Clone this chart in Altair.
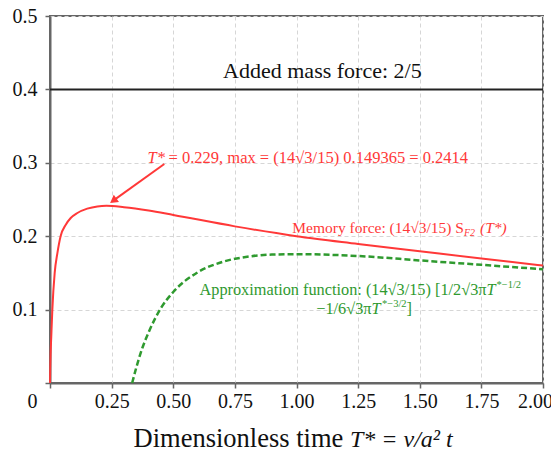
import altair as alt
import pandas as pd

SERIF = "Liberation Serif"
RED = "#ff3838"
GREEN = "#2f9a2f"
AXIS_GRAY = "#666666"

# ---- data ----
T_mem = [0, 0.001, 0.0025, 0.005, 0.0095, 0.019, 0.03, 0.043, 0.064, 0.084,
         0.111, 0.151, 0.192, 0.229, 0.3, 0.4, 0.5, 0.75, 1.0, 1.25, 1.5, 1.75, 2.0]
F_mem = [0, 0.02, 0.04, 0.062, 0.1, 0.15, 0.177, 0.2, 0.2157, 0.2248,
         0.2316, 0.2375, 0.2406, 0.2414, 0.2395, 0.235, 0.229, 0.2134, 0.2, 0.1895,
         0.1795, 0.1695, 0.16]

T_app = [0.3333, 0.35, 0.375, 0.4, 0.45, 0.5, 0.6, 0.7, 0.8, 0.9, 1.0,
         1.25, 1.5, 1.75, 2.0]
F_app = [0.0, 0.021, 0.048, 0.069, 0.102, 0.124, 0.151, 0.165, 0.172, 0.175, 0.1755,
         0.173, 0.167, 0.161, 0.155]

x_ticks = [0, 0.25, 0.5, 0.75, 1.0, 1.25, 1.5, 1.75, 2.0]
y_ticks = [0, 0.1, 0.2, 0.3, 0.4, 0.5]
added_mass = [0.4]

# annotation texts (positions in data units)
ann_text = ["Added mass force: 2/5",
            "T*", "= 0.229, max = (14√3/15) 0.149365 = 0.2414",
            "Memory force: (14√3/15) S", "F2", "(T*)",
            "Approximation function: (14√3/15) [1/2√3π", "T", "*−1/2",
            "−1/6√3π", "T", "*−3/2", "]",
            "Dimensionless time", "T* = v/a² t"]
ann_x = [1.105,
         0.4665, 0.4807,
         1.6795, 1.6795, 1.7444,
         1.7708, 1.7708, 1.8114,
         1.3043, 1.3043, 1.3468, 1.4463,
         1.19, 1.217]
ann_y = [0.416,
         0.2997, 0.2997,
         0.2044, 0.2, 0.2044,
         0.1195, 0.1195, 0.1291,
         0.0945, 0.0945, 0.104, 0.0945,
         0.0, 0.0]
ann_dy = [0, 0, 0, 0, 0, 0, 0, 0, 0, 0, 0, 0, 0, 64, 64]
ann_color = ["#111111",
             RED, RED,
             RED, RED, RED,
             GREEN, GREEN, GREEN,
             GREEN, GREEN, GREEN, GREEN,
             "#111111", "#111111"]
ann_size = [22, 16.5, 16.5, 15.5, 10, 15.5, 16.3, 16.3, 10.5, 16.3, 16.3, 10.5, 16.3, 26.5, 24]
ann_style = ["normal", "italic", "normal", "normal", "italic", "italic",
             "normal", "italic", "normal", "normal", "italic", "normal", "normal",
             "normal", "italic"]
ann_align = ["center", "right", "left", "right", "left", "left",
             "right", "left", "left", "right", "left", "left", "left",
             "right", "left"]

arrow_tail_x = [0.4637]
arrow_tail_y = [0.2984]
arrow_head_x = [0.2566]
arrow_head_y = [0.2484]

# ---- chart ----
xscale = alt.Scale(domain=[0, 2], nice=False, zero=False)
yscale = alt.Scale(domain=[0, 0.5], nice=False, zero=False)

common_axis = dict(
    grid=True, title=None,
    domainColor=AXIS_GRAY, domainWidth=2,
    tickColor=AXIS_GRAY, tickWidth=1.5, tickSize=5,
    labelFont=SERIF, labelFontSize=20, labelColor="#111111",
    gridColor="#d6d6d6", gridDash=[4, 3], gridWidth=1,
)
xaxis = alt.Axis(
    values=x_ticks,
    labelExpr="datum.value == 0 ? '0' : format(datum.value, '.2f')",
    labelOffset={"condition": [{"test": "datum.value == 0", "value": -18},
                               {"test": "datum.value == 2", "value": -8}],
                 "value": 0},
    labelFlush=False,
    labelPadding=3,
    **common_axis,
)
yaxis = alt.Axis(
    values=y_ticks,
    labelExpr="datum.value == 0 ? '' : format(datum.value, '.1f')",
    labelPadding=8,
    **common_axis,
)

mem_df = pd.DataFrame({"T": T_mem, "F": F_mem})
app_df = pd.DataFrame({"T": T_app, "F": F_app})

mem = alt.Chart(mem_df).mark_line(color=RED, strokeWidth=2, interpolate="monotone").encode(
    x=alt.X("T:Q", scale=xscale, axis=xaxis),
    y=alt.Y("F:Q", scale=yscale, axis=yaxis),
)
app = alt.Chart(app_df).mark_line(color=GREEN, strokeWidth=2.5, strokeDash=[6, 3],
                                  interpolate="monotone").encode(
    x=alt.X("T:Q", scale=xscale),
    y=alt.Y("F:Q", scale=yscale),
)
mass = alt.Chart(pd.DataFrame({"y": added_mass})).mark_rule(color="#222222", strokeWidth=2).encode(
    y=alt.Y("y:Q", scale=yscale)
)
arrow_df = pd.DataFrame({"x": arrow_tail_x, "y": arrow_tail_y,
                         "x2": arrow_head_x, "y2": arrow_head_y})
arrow_line = alt.Chart(arrow_df).mark_rule(color=RED, strokeWidth=2).encode(
    x=alt.X("x:Q", scale=xscale), y=alt.Y("y:Q", scale=yscale), x2="x2:Q", y2="y2:Q"
)
arrow_head = alt.Chart(arrow_df).mark_point(shape="triangle-up", filled=True, fill=RED,
                                            stroke=RED, strokeWidth=0, opacity=1,
                                            size=80, angle=234).encode(
    x=alt.X("x2:Q", scale=xscale), y=alt.Y("y2:Q", scale=yscale)
)

layers = [mem, mass, app, arrow_line, arrow_head]
for i in range(len(ann_text)):
    d = pd.DataFrame({"x": [ann_x[i]], "y": [ann_y[i]], "t": [ann_text[i]]})
    layers.append(
        alt.Chart(d).mark_text(font=SERIF, fontSize=ann_size[i], fontStyle=ann_style[i],
                               align=ann_align[i], baseline="alphabetic",
                               color=ann_color[i], dy=ann_dy[i]).encode(
            x=alt.X("x:Q", scale=xscale), y=alt.Y("y:Q", scale=yscale), text="t:N"
        )
    )

chart = alt.layer(*layers).properties(
    width=493, height=367,
    autosize=alt.AutoSizeParams(type="none"),
    padding={"left": 42, "top": 8, "right": 8, "bottom": 70},
    background="white",
).configure_view(
    stroke=AXIS_GRAY, strokeWidth=2
)

chart.save("out.html", embed_options={"renderer": "svg", "actions": False})
